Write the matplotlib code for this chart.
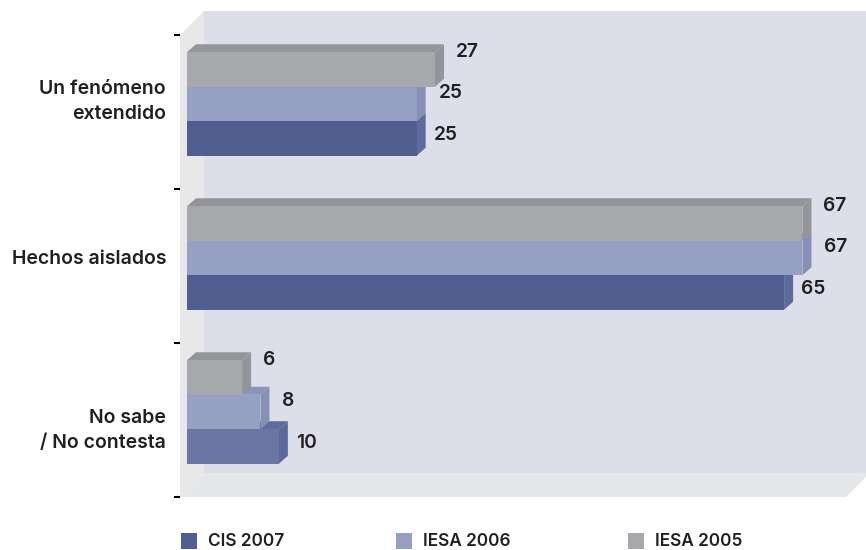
import matplotlib
matplotlib.use("Agg")
import matplotlib.pyplot as plt
from matplotlib.patches import Polygon, Rectangle

# ---- data -------------------------------------------------------------
categories = ["Un fenómeno\nextendido", "Hechos aislados", "No sabe\n/ No contesta"]
series_names = ["CIS 2007", "IESA 2006", "IESA 2005"]
cis_2007 = [25, 65, 10]
iesa_2006 = [25, 67, 8]
iesa_2005 = [27, 67, 6]

# ---- styles -----------------------------------------------------------
FONT = ["Inter", "Liberation Sans", "DejaVu Sans"]
WEIGHT = "semibold"
TEXT_COLOR = "#231f20"
CAT_SIZE = 14.0
LEG_SIZE = 12.4
VAL_SIZE = 13.8
# (front, side, top) colours per series
face_colors = {
    "CIS 2007": ("#515e90", "#5d6a9e", "#6270a3"),
    "IESA 2006": ("#96a0c2", "#8790b7", "#8a94bb"),
    "IESA 2005": ("#a7a8ac", "#939598", "#939598"),
}
# the lower "No sabe" CIS bar is printed in a lighter shade
special_front = {(2, "CIS 2007"): ("#6b77a2", "#5c6899", "#5f6b9e")}

W, H = 866, 550
fig = plt.figure(figsize=(W / 100, H / 100), dpi=100)
fig.patch.set_facecolor("white")

# front plane of the box: x from 180 px to 846 px, y from 35 px to 497 px
ax_left, ax_right, ax_top, ax_bot = 180, 846, 35, 497
ax = fig.add_axes([ax_left / W, (H - ax_bot) / H,
                   (ax_right - ax_left) / W, (ax_bot - ax_top) / H])
XMAX = 72.5
ax.set_xlim(0, XMAX)
ax.set_ylim(len(categories) - 0.5, -0.5)

# conversion from pixels to data units
ux = XMAX / (ax_right - ax_left)
uy = len(categories) / (ax_bot - ax_top)


def shift(x, y, dx_px, dy_px):
    """Move a data point right by dx_px and up by dy_px pixels."""
    return (x + dx_px * ux, y - dy_px * uy)


# ---- box walls --------------------------------------------------------
BOX = 24
y_top, y_bot = -0.5, len(categories) - 0.5
back = Polygon([shift(0, y_top, BOX, BOX), shift(XMAX + 5, y_top, BOX, BOX),
                shift(XMAX + 5, y_bot, BOX, BOX), shift(0, y_bot, BOX, BOX)],
               closed=True, facecolor="#dcdee9", edgecolor="none",
               clip_on=False, zorder=0)
side = Polygon([(0, y_top), shift(0, y_top, BOX, BOX),
                shift(0, y_bot, BOX, BOX), (0, y_bot)],
               closed=True, facecolor="#e8e8ea", edgecolor="none",
               clip_on=False, zorder=0)
floor = Polygon([(0, y_bot), (XMAX, y_bot), shift(XMAX, y_bot, BOX, BOX),
                 shift(0, y_bot, BOX, BOX)],
                closed=True, facecolor="#e6e7e8", edgecolor="none",
                clip_on=False, zorder=0)
for p in (back, side, floor):
    ax.add_patch(p)

# ---- 3D bars ----------------------------------------------------------
D1 = (7, 8)      # offset of the bar front from the front plane
D2 = (9, 8)      # bar depth
BAR_H = 34.5 * uy
values = {"CIS 2007": cis_2007, "IESA 2006": iesa_2006, "IESA 2005": iesa_2005}
slot = {"IESA 2005": -1, "IESA 2006": 0, "CIS 2007": 1}
label_dx = {"IESA 2005": 21, "IESA 2006": 22, "CIS 2007": 17}
label_dy = {"IESA 2005": 18, "IESA 2006": 11, "CIS 2007": 4}

z = 2
for ci in range(len(categories)):
    for name in ["CIS 2007", "IESA 2006", "IESA 2005"]:
        v = values[name][ci]
        front_c, side_c, top_c = special_front.get((ci, name), face_colors[name])
        yc = ci + slot[name] * BAR_H
        y0, y1 = yc - BAR_H / 2, yc + BAR_H / 2   # y0 is the upper edge
        fl = shift(0, y0, *D1)
        fr = shift(v, y0, *D1)
        br_ = shift(v, y1, *D1)
        bl = shift(0, y1, *D1)
        tot = (D1[0] + D2[0], D1[1] + D2[1])
        top = Polygon([fl, fr, shift(v, y0, *tot), shift(0, y0, *tot)],
                      closed=True, facecolor=top_c, edgecolor="none", zorder=z)
        right = Polygon([fr, br_, shift(v, y1, *tot), shift(v, y0, *tot)],
                        closed=True, facecolor=side_c, edgecolor="none", zorder=z)
        front = Polygon([fl, fr, br_, bl], closed=True, facecolor=front_c,
                        edgecolor="none", zorder=z)
        for p in (top, right, front):
            ax.add_patch(p)
        z += 1
        lx, ly = shift(v, yc, D1[0] + label_dx[name], D1[1] + label_dy[name])
        ax.text(lx, ly, f"{v}", ha="left", va="center", fontsize=VAL_SIZE,
                family=FONT, weight=WEIGHT, color=TEXT_COLOR, zorder=20,
                clip_on=False)

# ---- axes decoration ---------------------------------------------------
for s in ax.spines.values():
    s.set_visible(False)
ax.set_xticks([])
ax.set_yticks([i - 0.5 for i in range(len(categories) + 1)])
ax.set_yticklabels([])
ax.tick_params(axis="y", length=4.5, width=1.5, color="black", direction="out")
ax.patch.set_visible(False)

cat_dy = [11, 7, -10]
for ci, cat in enumerate(categories):
    x, y = shift(0, ci, -14, cat_dy[ci])
    ax.text(x, y, cat, ha="right", va="center", multialignment="right",
            fontsize=CAT_SIZE, family=FONT, weight=WEIGHT, color=TEXT_COLOR,
            linespacing=1.5, clip_on=False)

# ---- legend -----------------------------------------------------------
legend_x = [181, 396, 628]
for name, lx in zip(series_names, legend_x):
    fig.add_artist(Rectangle((lx / W, (H - 549) / H), 16 / W, 16 / H,
                             transform=fig.transFigure,
                             facecolor=face_colors[name][0], edgecolor="none"))
    fig.text((lx + 27) / W, (H - 541) / H, name, ha="left", va="center",
             fontsize=LEG_SIZE, family=FONT, weight=WEIGHT, color=TEXT_COLOR)

fig.savefig("out.png", dpi=100, facecolor="white")
